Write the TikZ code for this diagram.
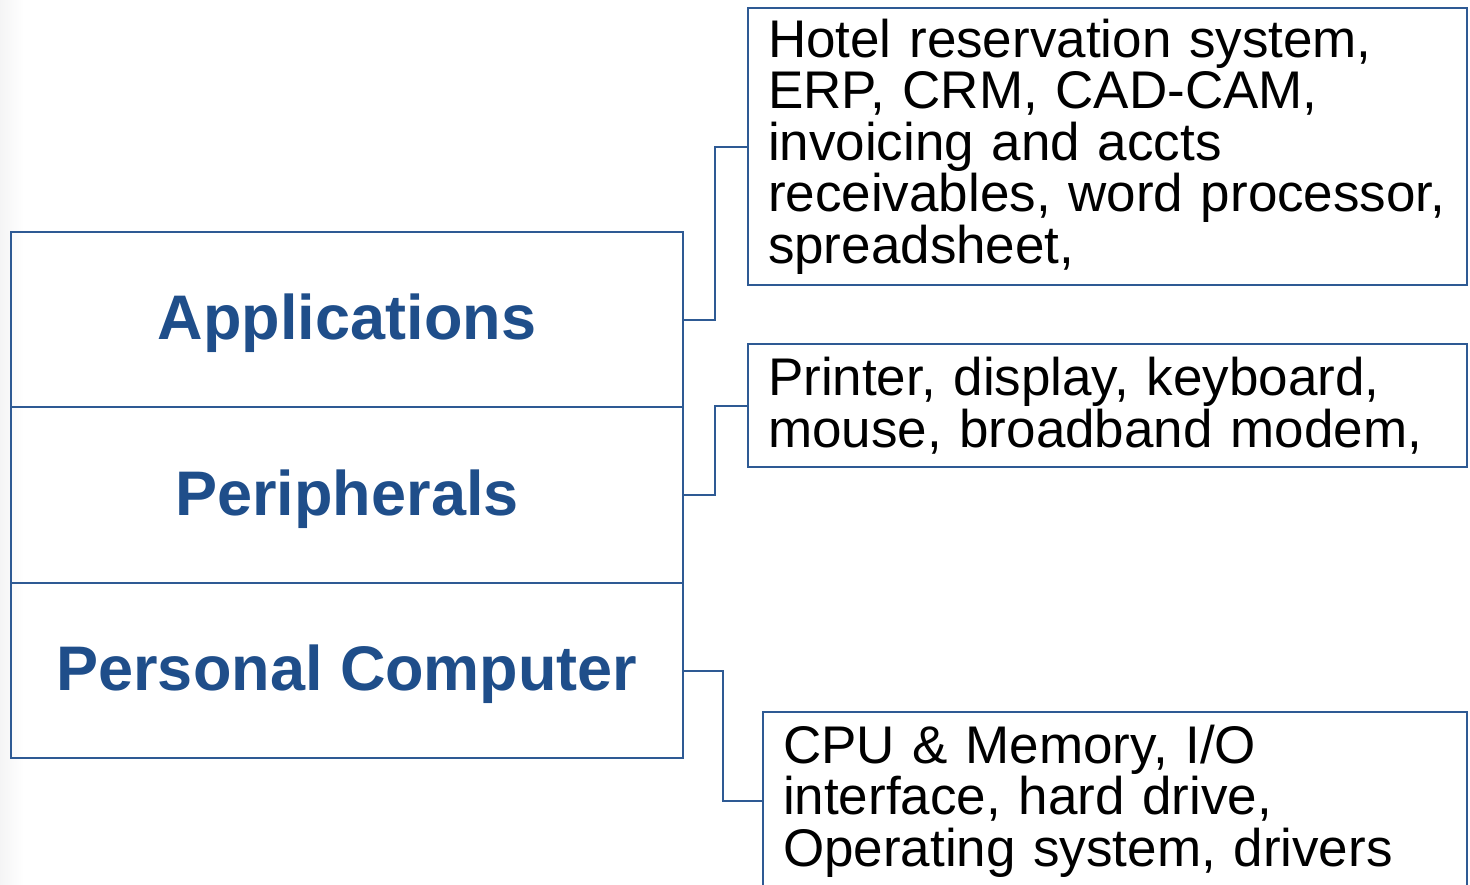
\documentclass[tikz,border=0pt]{standalone}
\usepackage{fontspec}
\setmainfont{Liberation Sans}
\usetikzlibrary{positioning}
\definecolor{layerblue}{RGB}{31,78,138}
\definecolor{edgeblue}{RGB}{46,90,148}
\hyphenpenalty=10000

\begin{document}
\begin{tikzpicture}
[x=1pt, y=-1pt,
% STYLES
every node/.style={outer sep=0pt},
% The layer style is used for the stacked boxes on the left
layer/.style={rectangle, draw=edgeblue, line width=2pt, minimum width=672pt, minimum height=175.5pt, text height=45pt, text depth=5pt, text=layerblue, font=\fontsize{63}{63}\selectfont\bfseries},
% The detail style is used for the boxes with the examples
detail/.style={rectangle, draw=edgeblue, line width=2pt, inner xsep=20pt, inner ysep=0pt, align=left, font=\fontsize{53}{51.5}\selectfont},
link/.style={draw=edgeblue, line width=2pt}]

\useasboundingbox (0,0) rectangle (1470,884);
\clip (0,0) rectangle (1470,884);
\shade [left color=blue!4!gray!8, right color=white] (0,0) rectangle (24,884);

% Draw layers
\node [layer] (apps) at (347,319.5) {Applications};
\node [layer, below=0pt of apps] (periph) {Peripherals};
\node [layer, below=0pt of periph] (pc) {Personal Computer};

% Draw details
\node [detail, anchor=north west, text width=679pt, minimum height=277pt] (software) at (748,8)
  {Hotel reservation system,\\ERP, CRM, CAD-CAM,\\invoicing and accts\\receivables, word processor,\\spreadsheet,};
\node [detail, anchor=north west, text width=679pt, minimum height=123pt] (devices) at (748,344)
  {Printer, display, keyboard,\\mouse, broadband modem,};
\node [detail, anchor=north west, text width=664pt, minimum height=178pt] (hardware) at (763,712)
  {CPU \& Memory, I/O\\interface, hard drive,\\Operating system, drivers};

\draw [link] (apps.east) -- ++(32,0) |- (software.west);
\draw [link] (periph.east) -- ++(32,0) |- (devices.west);
\draw [link] (pc.east) -- ++(40,0) |- (hardware.west);

\end{tikzpicture}
\end{document}
